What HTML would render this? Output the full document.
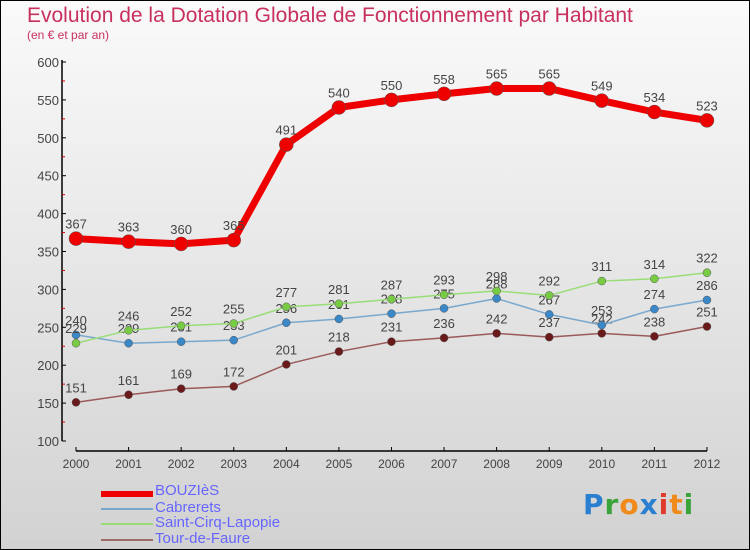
<!DOCTYPE html>
<html><head><meta charset="utf-8"><style>
body{margin:0}
#c{position:relative;width:748px;height:548px;border:1px solid #000;background:linear-gradient(#fafafa,#d2d2d2);font-family:"Liberation Sans",sans-serif;overflow:hidden}
.t{position:absolute;color:#c8305e;white-space:nowrap}
.leg{position:absolute;left:100px;font-size:15px;color:#6666ff;white-space:nowrap}
.sw{position:absolute;left:0;width:52px}
</style></head><body>
<div id="c">
<div class="t" style="left:26px;top:3px;font-size:21px">Evolution de la Dotation Globale de Fonctionnement par Habitant</div>
<div class="t" style="left:26px;top:27px;font-size:12px">(en € et par an)</div>
<svg id="s" width="748" height="548" style="position:absolute;left:0;top:0"></svg>
<div class="leg" style="top:481px"><span class="sw" style="top:9px;height:6px;background:#e00"></span><span style="margin-left:54px">BOUZIèS</span></div>
<div class="leg" style="top:498px"><span class="sw" style="top:9px;height:2px;background:#79a8cf"></span><span style="margin-left:54px">Cabrerets</span></div>
<div class="leg" style="top:513px"><span class="sw" style="top:9px;height:2px;background:#99dd77"></span><span style="margin-left:54px">Saint-Cirq-Lapopie</span></div>
<div class="leg" style="top:529px"><span class="sw" style="top:9px;height:2px;background:#a06a6a"></span><span style="margin-left:54px">Tour-de-Faure</span></div>
<div style="position:absolute;left:582px;top:487px;font-size:28px;font-family:'DejaVu Sans',sans-serif;font-weight:bold;letter-spacing:1px"><span style="color:#2a7fd0">P</span><span style="color:#3aa33a">r</span><span style="color:#f08a1a">o</span><span style="color:#2a7fd0">x</span><span style="color:#e03a2a">i</span><span style="color:#f08a1a">t</span><span style="color:#3aa33a">i</span></div>
</div>
<script>
const years=[2000,2001,2002,2003,2004,2005,2006,2007,2008,2009,2010,2011,2012];
const bouzies=[367,363,360,365,491,540,550,558,565,565,549,534,523];
const cabrerets=[240,229,231,233,256,261,268,275,288,267,253,274,286];
const saintCirq=[229,246,252,255,277,281,287,293,298,292,311,314,322];
const tourDeFaure=[151,161,169,172,201,218,231,236,242,237,242,238,251];
const yTicks=[100,150,200,250,300,350,400,450,500,550,600];
const s=document.getElementById('s');const NS='http://www.w3.org/2000/svg';
const X=i=>75+i*52.58, Y=v=>440-(v-100)*0.758;
function mk(t,a,p){const e=document.createElementNS(NS,t);for(const k in a)e.setAttribute(k,a[k]);(p||s).appendChild(e);return e;}
let e=mk('line',{x1:61,y1:59,x2:61,y2:440,stroke:'#000','stroke-width':1.5});


e=mk('line',{x1:75,y1:450,x2:706,y2:450,stroke:'#000','stroke-width':1.5});


yTicks.forEach(v=>{mk('line',{x1:61,y1:Y(v),x2:65,y2:Y(v),stroke:'#000'});
 if(v<600)mk('line',{x1:61,y1:Y(v+25),x2:64,y2:Y(v+25),stroke:'#d00'});
 const t=mk('text',{x:58,y:Y(v)+5,'text-anchor':'end','font-size':13,fill:'#444'});t.textContent=v;
 
 });
years.forEach((y,i)=>{mk('line',{x1:X(i),y1:446,x2:X(i),y2:450,stroke:'#000'});
 const t=mk('text',{x:X(i),y:467,'text-anchor':'middle','font-size':12,fill:'#444'});t.textContent=y;
 
 });
function series(d,col,dark,w,r,name){
 const g=mk('g',{});
 
 
 mk('polyline',{points:d.map((v,i)=>X(i)+','+Y(v)).join(' '),fill:'none',stroke:col,'stroke-width':w,'stroke-linejoin':'round'},g);
 d.forEach((v,i)=>{const c=mk('circle',{cx:X(i),cy:Y(v),r:r,fill:dark,stroke:'#555','stroke-width':0.5},g);
  
  
  const t=mk('text',{x:X(i),y:Y(v)-10,'text-anchor':'middle','font-size':13,fill:'#444'},g);t.textContent=v;});
}
series(tourDeFaure,'#9a5a5a','#6a1a1a',1.5,4,'series-tour-de-faure');
series(cabrerets,'#79a8cf','#3a88c8',1.5,4,'series-cabrerets');
series(saintCirq,'#99dd77','#77cc44',1.5,4,'series-saint-cirq');
series(bouzies,'#ee0000','#ee0000',7,7,'series-bouzies');
</script>
</body></html>
